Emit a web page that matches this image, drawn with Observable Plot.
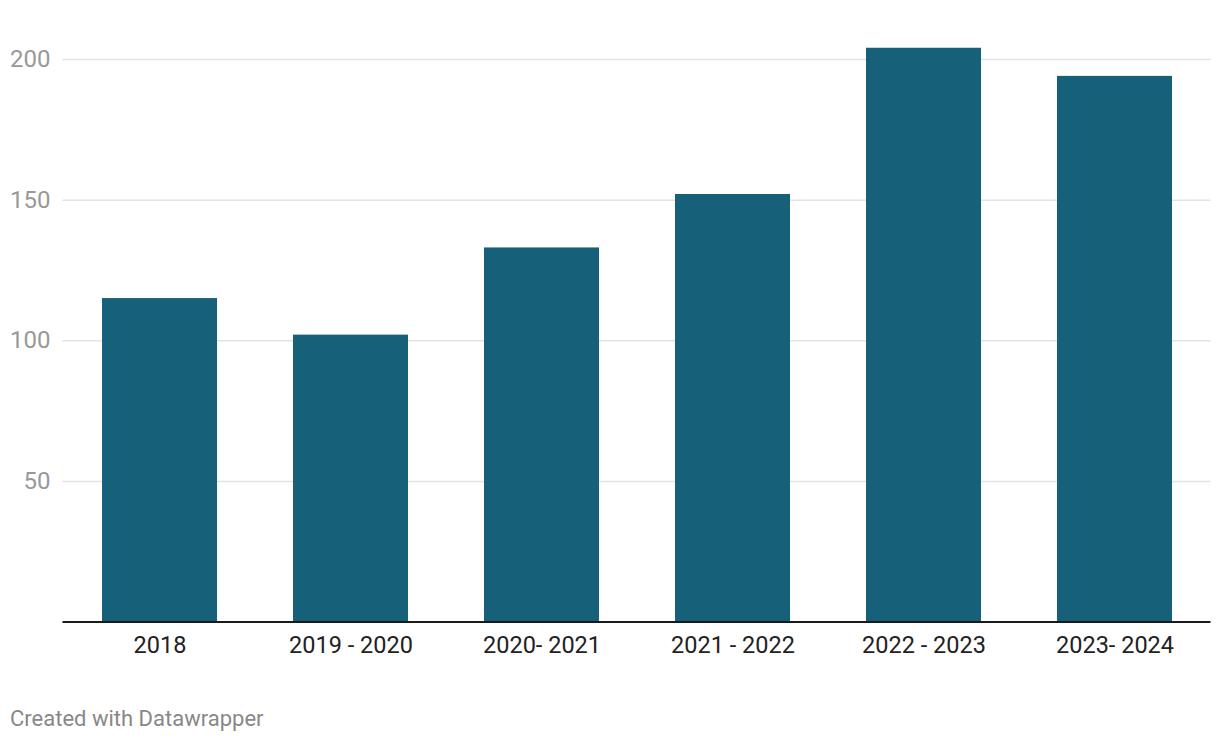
<!DOCTYPE html>
<html>
<head>
<meta charset="utf-8">
<script src="https://cdn.jsdelivr.net/npm/d3@7"></script>
<script src="https://cdn.jsdelivr.net/npm/@observablehq/plot@0.6"></script>
<style>
  html, body { margin: 0; padding: 0; background: #fff; }
  body { width: 1220px; height: 742px; font-family: Roboto, sans-serif; position: relative; }
  #chart { position: absolute; left: 0; top: 0; }
  #caption { position: absolute; left: 10px; top: 706px; font-size: 22px; color: #888; font-family: Roboto, sans-serif; }
</style>
</head>
<body>
<div id="chart"></div>
<div id="caption">Created with Datawrapper</div>
<script>
const categories = ["2018", "2019 - 2020", "2020- 2021", "2021 - 2022", "2022 - 2023", "2023- 2024"];
const values = [115, 102, 133, 152, 204, 194];
const yTicks = [50, 100, 150, 200];

const data = categories.map((c, i) => ({category: c, value: values[i]}));

const chart = Plot.plot({
  width: 1220,
  height: 680,
  marginLeft: 62.5,
  marginRight: 9.5,
  marginTop: 20,
  marginBottom: 59,
  style: {fontFamily: "Roboto, sans-serif", background: "#fff"},
  x: {domain: categories, paddingInner: 0.4, paddingOuter: 0.2, label: null},
  y: {domain: [0, 200], range: [621.5, 59], label: null},
  marks: [
    Plot.gridY(yTicks, {stroke: "#e3e3e3", strokeOpacity: 1, strokeWidth: 1.5}),
    Plot.barY(data, {x: "category", y: "value", fill: "#17607a"}),
    Plot.ruleY([0], {stroke: "#1a1a1a", strokeWidth: 2}),
    Plot.axisY(yTicks, {tickSize: 0, tickPadding: 12.5, fontSize: 24, fill: "#999", label: null}),
    Plot.axisX({tickSize: 0, tickPadding: 15, fontSize: 23.5, fill: "#222", label: null})
  ]
});
document.getElementById("chart").appendChild(chart);
</script>
</body>
</html>
